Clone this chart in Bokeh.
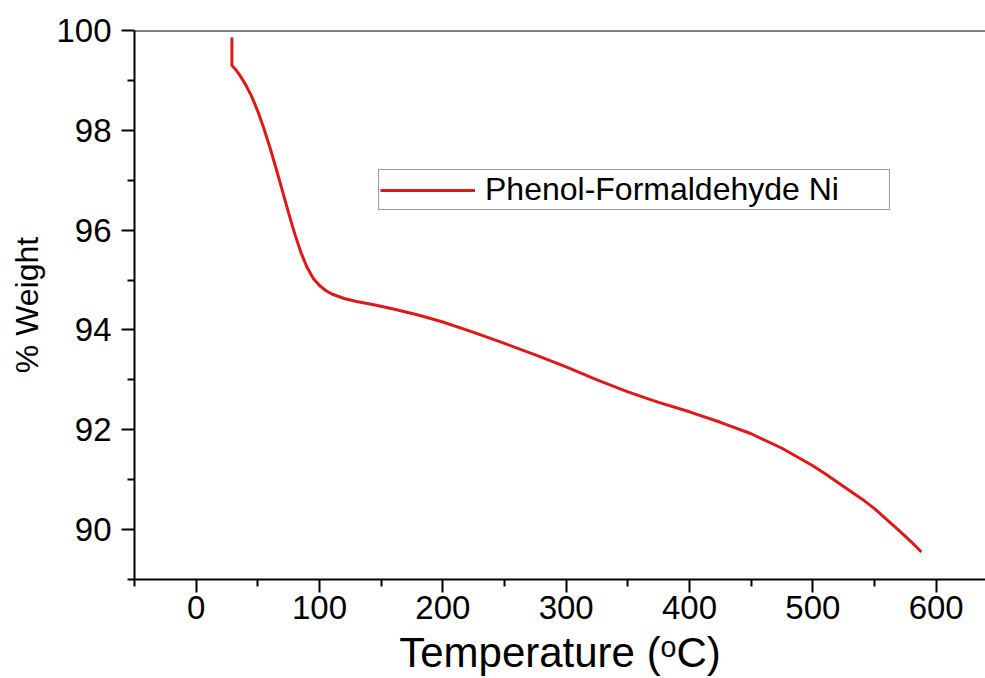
from bokeh.plotting import figure
from bokeh.models import Range1d, Span, Legend, LegendItem, FixedTicker
from bokeh.embed import file_html
from bokeh.resources import INLINE

# ---- data ----
temperature = [29, 29, 32, 36, 40, 45, 50, 55, 60, 65, 70, 75, 80, 85, 90, 95, 100,
               105, 110, 120, 130, 145, 160, 180, 200, 225, 250, 275, 300, 325, 350,
               375, 400, 425, 450, 475, 500, 510, 520, 530, 540, 550, 560, 570, 580, 588]
weight = [99.86, 99.3, 99.22, 99.08, 98.92, 98.68, 98.38, 98.03, 97.64, 97.22, 96.78,
          96.34, 95.92, 95.55, 95.25, 95.03, 94.89, 94.79, 94.72, 94.63, 94.57, 94.5,
          94.42, 94.3, 94.16, 93.95, 93.73, 93.5, 93.26, 93.0, 92.76, 92.55, 92.36,
          92.15, 91.92, 91.63, 91.28, 91.12, 90.95, 90.78, 90.61, 90.42, 90.2, 89.98,
          89.75, 89.55]
series_label = "Phenol-Formaldehyde Ni"
x_major = [0, 100, 200, 300, 400, 500, 600]
x_minor = [-50, 50, 150, 250, 350, 450, 550]
y_major = [90, 92, 94, 96, 98, 100]
y_minor = [89, 91, 93, 95, 97, 99]

FONT = "Liberation Sans"

p = figure(width=985, height=678, output_backend="svg", toolbar_location=None,
           x_range=Range1d(-50, 640), y_range=Range1d(89, 100),
           min_border_left=134, min_border_top=30, min_border_right=0,
           min_border_bottom=97)
p.outline_line_color = None
p.grid.visible = False
p.background_fill_color = "white"
p.border_fill_color = "white"

r = p.line(temperature, weight, line_color="#dc1a1a", line_width=3)

p.add_layout(Span(location=100, dimension="width", line_color="black", line_width=2))

p.xaxis.ticker = FixedTicker(ticks=x_major, minor_ticks=x_minor)
p.yaxis.ticker = FixedTicker(ticks=y_major, minor_ticks=y_minor)

for ax in (p.xaxis[0], p.yaxis[0]):
    ax.axis_line_width = 2
    ax.axis_line_color = "black"
    ax.major_tick_line_width = 2
    ax.minor_tick_line_width = 2
    ax.major_tick_line_color = "black"
    ax.minor_tick_line_color = "black"
    ax.major_tick_in = 0
    ax.minor_tick_in = 0
    ax.major_tick_out = 13
    ax.minor_tick_out = 7
    ax.major_label_text_font = FONT
    ax.major_label_text_font_size = "33px"
    ax.major_label_text_color = "black"
    ax.axis_label_text_font = FONT
    ax.axis_label_text_font_style = "normal"
    ax.axis_label_text_color = "black"

p.xaxis.axis_label = "Temperature (ᵒC)"
p.xaxis.axis_label_text_font_size = "42px"
p.xaxis.major_label_standoff = 3
p.xaxis.axis_label_standoff = 7
p.yaxis.axis_label = "% Weight"
p.yaxis.axis_label_text_font_size = "32px"
p.yaxis.major_label_standoff = 10
p.yaxis.axis_label_standoff = 8

legend = Legend(items=[LegendItem(label=series_label, renderers=[r])],
                location=(244, 369), orientation="vertical",
                glyph_width=95, glyph_height=26, label_standoff=10,
                label_width=403, padding=1, margin=0,
                label_text_font=FONT, label_text_font_size="32px",
                label_text_color="black",
                border_line_color="#333333", border_line_width=1,
                background_fill_alpha=1.0)
p.add_layout(legend)

open("out.html", "w").write(file_html(p, INLINE))
